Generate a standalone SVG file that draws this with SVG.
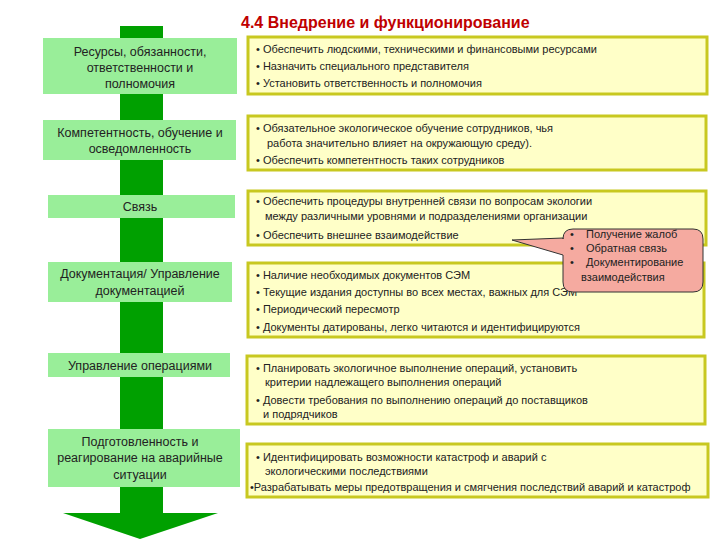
<svg xmlns="http://www.w3.org/2000/svg" width="720" height="540" viewBox="0 0 720 540">
<style>
.lbl{fill:#99ee99;}
.lt{font-family:"Liberation Sans",Arial,sans-serif;font-size:12.5px;fill:#222;text-anchor:middle;}
.yb{fill:#ffffc8;stroke:#c8c820;stroke-width:3;}
.yt{font-family:"Liberation Sans",Arial,sans-serif;font-size:11px;fill:#222;}
.title{font-family:"Liberation Sans",Arial,sans-serif;font-size:16px;font-weight:bold;fill:#c00000;}
.ct{font-family:"Liberation Sans",Arial,sans-serif;font-size:11px;fill:#222;}
</style>
<rect width="720" height="540" fill="#ffffff"/>
<text class="title" x="241" y="28">4.4  Внедрение и функционирование</text>

<g id="connectors">
  <path d="M120,26 H163 V513 H218 L140,539 L63,513 H120 Z" fill="#00a000"/>
</g>

<g id="n1">
  <rect class="lbl" x="43" y="38" width="194" height="56"/>
  <text class="lt" x="140" y="56">Ресурсы, обязанности,</text>
  <text class="lt" x="140" y="72">ответственности и</text>
  <text class="lt" x="140" y="88">полномочия</text>
</g>
<g id="n2">
  <rect class="lbl" x="43" y="120" width="193" height="40"/>
  <text class="lt" x="140" y="137">Компетентность, обучение и</text>
  <text class="lt" x="140" y="153">осведомленность</text>
</g>
<g id="n3">
  <rect class="lbl" x="48" y="195" width="187" height="23"/>
  <text class="lt" x="140" y="211">Связь</text>
</g>
<g id="n4">
  <rect class="lbl" x="48" y="262" width="184" height="40"/>
  <text class="lt" x="140" y="278">Документация/ Управление</text>
  <text class="lt" x="140" y="295">документацией</text>
</g>
<g id="n5">
  <rect class="lbl" x="48" y="353" width="182" height="24"/>
  <text class="lt" x="140" y="370">Управление операциями</text>
</g>
<g id="n6">
  <rect class="lbl" x="48" y="429" width="192" height="58"/>
  <text class="lt" x="140" y="446">Подготовленность и</text>
  <text class="lt" x="140" y="462">реагирование на аварийные</text>
  <text class="lt" x="140" y="479">ситуации</text>
</g>

<g id="d1">
  <rect class="yb" x="248" y="37" width="459" height="57"/>
  <text class="yt" x="256" y="53">•  Обеспечить людскими, техническими и финансовыми ресурсами</text>
  <text class="yt" x="256" y="70">•  Назначить специального представителя</text>
  <text class="yt" x="256" y="87">•  Установить ответственность и полномочия</text>
</g>
<g id="d2">
  <rect class="yb" x="248" y="116" width="458" height="54"/>
  <text class="yt" x="256" y="132">• Обязательное экологическое обучение сотрудников, чья</text>
  <text class="yt" x="267" y="147">работа значительно влияет на окружающую среду).</text>
  <text class="yt" x="256" y="164">•  Обеспечить компетентность таких  сотрудников</text>
</g>
<g id="d3">
  <rect class="yb" x="248" y="191" width="458" height="54"/>
  <text class="yt" x="256" y="205">•  Обеспечить процедуры внутренней связи по вопросам экологии</text>
  <text class="yt" x="265" y="220">между различными уровнями и подразделениями организации</text>
  <text class="yt" x="256" y="239">•  Обеспечить внешнее взаимодействие</text>
</g>
<g id="d4">
  <rect class="yb" x="248" y="263" width="456" height="74"/>
  <text class="yt" x="256" y="279">•  Наличие необходимых документов СЭМ</text>
  <text class="yt" x="256" y="296">•  Текущие издания доступны во всех местах, важных для СЭМ</text>
  <text class="yt" x="256" y="313">•  Периодический пересмотр</text>
  <text class="yt" x="256" y="331">•  Документы датированы, легко читаются и идентифицируются</text>
</g>
<g id="d5">
  <rect class="yb" x="247" y="356" width="458" height="68"/>
  <text class="yt" x="256" y="372">•  Планировать экологичное выполнение операций, установить</text>
  <text class="yt" x="265" y="386">критерии надлежащего выполнения операций</text>
  <text class="yt" x="256" y="404">•  Довести требования по выполнению операций до поставщиков</text>
  <text class="yt" x="263" y="418">и подрядчиков</text>
</g>
<g id="d6">
  <rect class="yb" x="247" y="444" width="461" height="53"/>
  <text class="yt" x="256" y="461">•  Идентифицировать возможности катастроф и аварий с</text>
  <text class="yt" x="265" y="475">экологическими последствиями</text>
  <text class="yt" x="250" y="491">•Разрабатывать меры предотвращения и смягчения  последствий аварий и катастроф</text>
</g>

<g id="callout">
  <path d="M573,229 H693 Q703,229 703,239 V282 Q703,292 693,292 H573 Q563,292 563,282 V255 L512,240 L563,238 V239 Q563,229 573,229 Z" fill="#f5aaa0" stroke="#333" stroke-width="1"/>
  <text class="ct" x="570" y="238">•</text>
  <text class="ct" x="586" y="238">Получение жалоб</text>
  <text class="ct" x="570" y="252">•</text>
  <text class="ct" x="586" y="252">Обратная связь</text>
  <text class="ct" x="570" y="266">•</text>
  <text class="ct" x="586" y="266">Документирование</text>
  <text class="ct" x="581" y="281">взаимодействия</text>
</g>
</svg>
